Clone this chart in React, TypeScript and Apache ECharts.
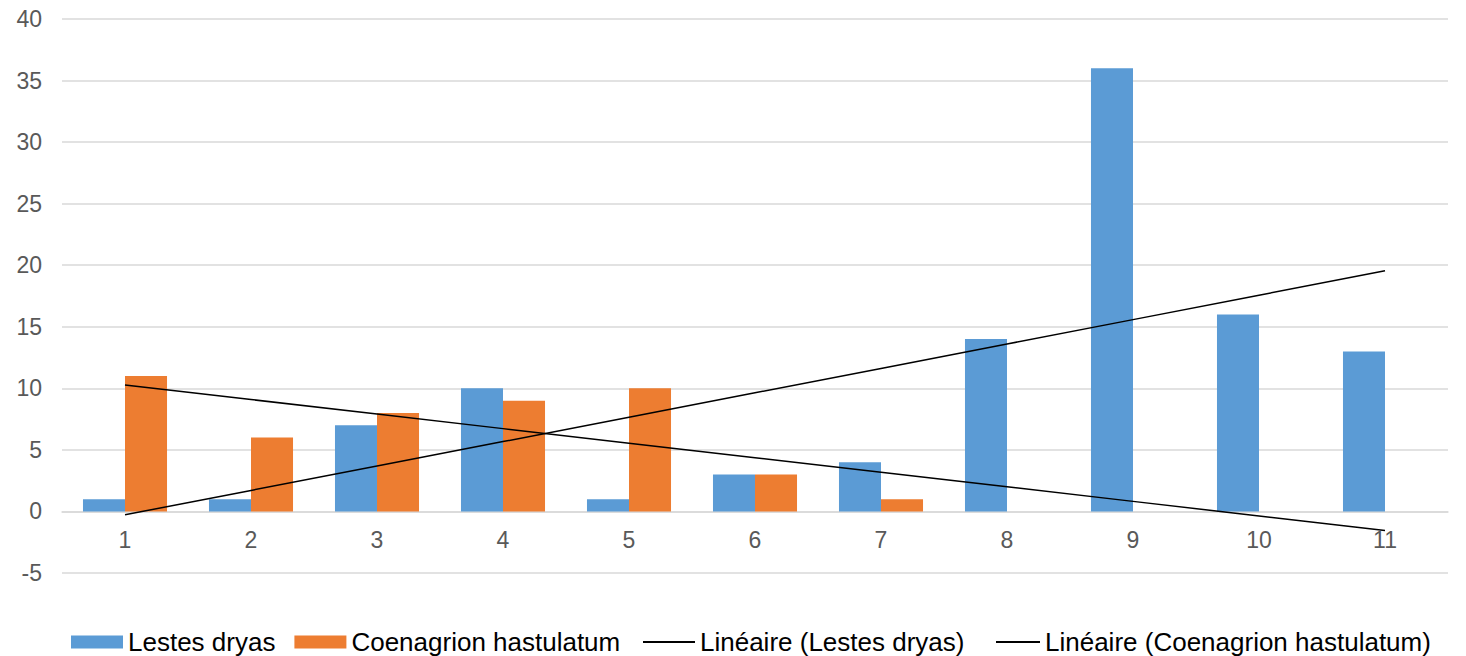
import React, { useEffect, useRef } from "react";
import * as echarts from "echarts";

const categories = ["1", "2", "3", "4", "5", "6", "7", "8", "9", "10", "11"];
const lestesDryas = [1, 1, 7, 10, 1, 3, 4, 14, 36, 16, 13];
const coenagrionHastulatum = [11, 6, 8, 9, 10, 3, 1, 0, 0, 0, 0];
const seriesNames = [
  "Lestes dryas",
  "Coenagrion hastulatum",
  "Linéaire (Lestes dryas)",
  "Linéaire (Coenagrion hastulatum)",
];
const yMin = -5;
const yMax = 40;
const yStep = 5;

// Least-squares linear trend (as Excel's "Linéaire" trendline), evaluated at each category
function linearTrend(values: number[]): number[] {
  const n = values.length;
  const xs = values.map((_, i) => i + 1);
  const mx = xs.reduce((a, b) => a + b, 0) / n;
  const my = values.reduce((a, b) => a + b, 0) / n;
  let sxy = 0;
  let sxx = 0;
  for (let i = 0; i < n; i++) {
    sxy += (xs[i] - mx) * (values[i] - my);
    sxx += (xs[i] - mx) * (xs[i] - mx);
  }
  const slope = sxy / sxx;
  return xs.map((x) => +(my + slope * (x - mx)).toFixed(4));
}

export default function App() {
  const ref = useRef<HTMLDivElement>(null);
  useEffect(() => {
    if (!ref.current) return;
    const chart = echarts.init(ref.current, undefined, { renderer: "svg" });
    const font = "Liberation Sans, Arial, sans-serif";
    const H = 656;
    const gridTop = 19;
    const gridBottom = 83;
    const plotH = H - gridTop - gridBottom;
    const zeroOffset = (plotH * (0 - yMin)) / (yMax - yMin);
    const legendText = { fontFamily: font, fontSize: 26, color: "#000000", lineHeight: 24 };
    const legendTop = 624;
    chart.setOption({
      animation: false,
      grid: { left: 62, right: 18, top: gridTop, bottom: gridBottom },
      legend: [
        {
          data: [seriesNames[0], seriesNames[1]],
          left: 66,
          top: legendTop,
          itemWidth: 52,
          itemHeight: 13,
          itemGap: 19,
          icon: "rect",
          textStyle: legendText,
        },
        {
          data: [seriesNames[2]],
          left: 638,
          top: legendTop,
          itemWidth: 52,
          itemHeight: 2,
          icon: "rect",
          textStyle: legendText,
        },
        {
          data: [seriesNames[3]],
          left: 991,
          top: legendTop,
          itemWidth: 44,
          itemHeight: 2,
          icon: "rect",
          textStyle: legendText,
        },
      ],
      xAxis: {
        type: "category",
        data: categories,
        offset: -zeroOffset,
        axisLine: { onZero: false, lineStyle: { color: "#d9d9d9", width: 1.5 } },
        axisTick: { show: false },
        axisLabel: { fontFamily: font, fontSize: 23, color: "#595959", margin: 17 },
      },
      yAxis: {
        type: "value",
        min: yMin,
        max: yMax,
        interval: yStep,
        axisLine: { show: false },
        axisTick: { show: false },
        axisLabel: { fontFamily: font, fontSize: 23, color: "#595959", margin: 20 },
        splitLine: { lineStyle: { color: "#d9d9d9", width: 1.5 } },
      },
      series: [
        {
          name: seriesNames[0],
          type: "bar",
          data: lestesDryas,
          itemStyle: { color: "#5B9BD5" },
          barGap: "0%",
          barCategoryGap: "33.3%",
        },
        {
          name: seriesNames[1],
          type: "bar",
          data: coenagrionHastulatum,
          itemStyle: { color: "#ED7D31" },
        },
        {
          name: seriesNames[2],
          type: "line",
          data: linearTrend(lestesDryas),
          symbol: "none",
          lineStyle: { color: "#000000", width: 1.5 },
          itemStyle: { color: "#000000" },
          z: 5,
        },
        {
          name: seriesNames[3],
          type: "line",
          data: linearTrend(coenagrionHastulatum),
          symbol: "none",
          lineStyle: { color: "#000000", width: 1.5 },
          itemStyle: { color: "#000000" },
          z: 5,
        },
      ],
    });
    return () => chart.dispose();
  }, []);
  return (
    <div
      ref={ref}
      style={{ position: "fixed", left: 0, top: 0, width: 1466, height: 656, background: "#ffffff" }}
    />
  );
}
